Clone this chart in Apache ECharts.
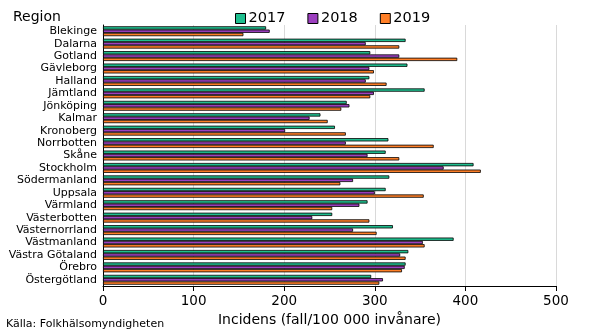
<!DOCTYPE html>
<html><head><meta charset="utf-8">
<script src="https://cdn.jsdelivr.net/npm/echarts@6/dist/echarts.min.js"></script>
<style>html,body{margin:0;padding:0;background:#fff}#c{width:590px;height:333px}</style>
</head><body><div id="c"></div>
<script>
const categories = ["Blekinge","Dalarna","Gotland","Gävleborg","Halland","Jämtland","Jönköping","Kalmar","Kronoberg","Norrbotten","Skåne","Stockholm","Södermanland","Uppsala","Värmland","Västerbotten","Västernorrland","Västmanland","Västra Götaland","Örebro","Östergötland"];
const years = ["2017","2018","2019"];
const v2017 = [180,334,295,336,294,355,269,240,256,315,312,409,316,312,292,253,320,387,337,334,296];
const v2018 = [184,290,327,294,290,299,272,228,201,268,292,376,276,300,283,231,276,353,328,333,309];
const v2019 = [155,327,391,299,313,295,263,248,268,365,327,417,262,354,253,294,302,355,334,330,305];
const xTicks = [0,100,200,300,400,500];
const colors = ["#1fbf8f","#9c3fbf","#ff7f27"];
const font = "DejaVu Sans";
const chart = echarts.init(document.getElementById('c'));
const vals = [v2017, v2018, v2019];
chart.setOption({
  animation:false,
  title:{text:"Region",left:8,top:5,textStyle:{fontFamily:font,fontSize:14,fontWeight:'normal',color:'#000'}},
  legend:{data:years,top:6,left:230,itemGap:22,itemWidth:10,itemHeight:10,icon:'rect',
    textStyle:{fontFamily:font,fontSize:14.5,color:'#000',padding:[0,0,0,-2]},
    itemStyle:{borderColor:'#000',borderWidth:1}},
  graphic:[{type:'text',left:6,top:319,style:{text:"Källa: Folkhälsomyndigheten",font:"11px "+font,fill:'#000'}}],
  grid:{left:103,right:34,top:25,bottom:47,containLabel:false},
  xAxis:{type:'value',min:0,max:500,interval:100,
    name:"Incidens (fall/100 000 invånare)",nameLocation:'middle',nameGap:27,
    nameTextStyle:{fontFamily:font,fontSize:14,color:'#000'},
    axisLine:{show:true,lineStyle:{color:'#000'}},
    axisTick:{show:true,length:5,lineStyle:{color:'#000'}},
    axisLabel:{fontFamily:font,fontSize:13.5,color:'#000',margin:8,formatter:v=>xTicks.includes(v)?String(v):''},
    splitLine:{show:true,lineStyle:{color:'#d9d9d9'}}},
  yAxis:{type:'category',data:categories,inverse:true,
    axisLine:{show:true,lineStyle:{color:'#000'}},axisTick:{show:false},
    axisLabel:{fontFamily:font,fontSize:11,color:'#000',margin:6,interval:0}},
  series: years.map((y,i)=>({name:y,type:'bar',data:vals[i],barWidth:3.3,barGap:'0%',
    itemStyle:{color:colors[i],borderColor:'#000',borderWidth:0.8}}))
});
</script></body></html>
